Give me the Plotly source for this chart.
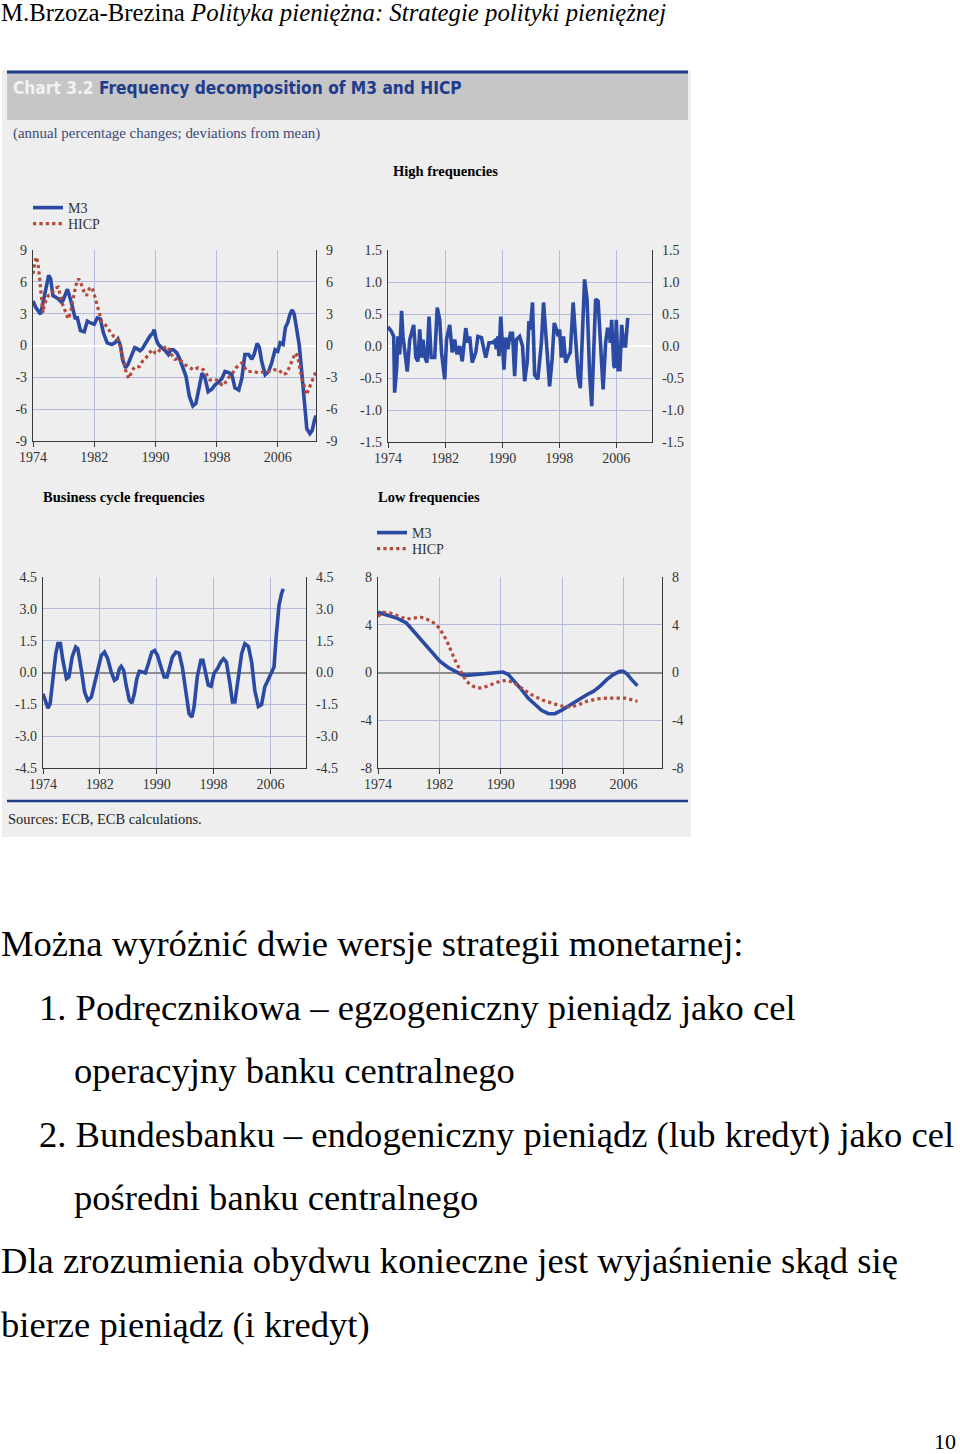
import plotly.graph_objects as go

W, H = 960, 1454
SERIF = "Liberation Serif"

# ---------------- data ----------------
years_ticks = [1974, 1982, 1990, 1998, 2006]
year_labels = ["1974", "1982", "1990", "1998", "2006"]

# Panel 1: M3 and HICP (annual % changes, deviations from mean)
p1_m3_year = [1974.0, 1974.35, 1975.0, 1975.5, 1976.05, 1976.3, 1976.6, 1977.3, 1977.7, 1977.9,
              1978.5, 1979.0, 1979.5, 1979.8, 1980.2, 1980.7, 1981.1, 1981.6, 1982.0, 1982.4,
              1982.8, 1983.2, 1983.7, 1984.3, 1984.7, 1985.1, 1985.45, 1985.7, 1986.1, 1986.4,
              1986.9, 1987.3, 1987.6, 1988.0, 1988.3, 1988.85, 1989.3, 1989.65, 1989.85, 1990.1,
              1990.4, 1990.8, 1991.25, 1991.7, 1992.0, 1992.35, 1992.8, 1993.2, 1993.65, 1994.0,
              1994.45, 1994.9, 1995.3, 1995.75, 1996.1, 1996.5, 1996.9, 1997.4, 1997.8, 1998.2,
              1998.7, 1999.1, 1999.6, 2000.0, 2000.4, 2000.9, 2001.3, 2001.7, 2002.2, 2002.6,
              2002.9, 2003.3, 2003.6, 2003.9, 2004.35, 2004.8, 2005.2, 2005.65, 2006.0, 2006.3,
              2006.7, 2007.0, 2007.3, 2007.6, 2007.9, 2008.15, 2008.5, 2008.8, 2009.15, 2009.5,
              2009.8, 2010.2, 2010.5, 2010.8, 2011.0]
p1_m3_val = [4.2, 3.6, 2.95, 4.7, 6.6, 6.3, 4.7, 4.4, 4.1, 4.2,
             5.3, 4.1, 2.6, 2.6, 1.4, 1.3, 2.3, 2.1, 2.0, 2.6,
             2.5, 1.2, 0.25, 0.1, 0.25, 0.6, -0.05, -1.3, -2.1, -1.8,
             -1.0, -0.2, -0.3, -0.5, -0.3, 0.4, 0.9, 1.15, 1.5, 0.6,
             0.1, -0.2, -0.45, -0.85, -0.4, -0.4, -0.7, -1.3, -2.3, -2.9,
             -4.8, -5.7, -5.45, -3.9, -2.6, -3.1, -4.35, -4.1, -3.7, -3.5,
             -3.1, -2.45, -2.55, -2.75, -4.0, -4.2, -3.1, -0.85, -0.85, -1.3,
             -0.85, 0.2, -0.2, -1.5, -2.75, -2.45, -1.65, -0.4, -0.55, 0.25,
             0.1, 1.7, 2.15, 2.95, 3.35, 2.95, 1.5, 0.1, -2.6, -5.45,
             -7.85, -8.3, -8.0, -7.05, -6.6]
p1_hicp_year = [1974.0, 1974.2, 1974.45, 1974.65, 1974.9, 1975.1, 1975.3, 1975.5, 1976.0, 1976.4,
                1976.85, 1977.3, 1977.5, 1977.85, 1978.3, 1978.6, 1978.9, 1979.25, 1979.6, 1979.95,
                1980.3, 1980.7, 1981.0, 1981.35, 1981.7, 1982.0, 1982.3, 1982.65, 1982.95, 1983.4,
                1983.7, 1984.05, 1984.5, 1984.9, 1985.25, 1985.55, 1985.85, 1986.2, 1986.55, 1986.9,
                1987.3, 1987.9, 1988.3, 1988.75, 1989.2, 1989.6, 1989.95, 1990.25, 1990.6, 1991.0,
                1991.45, 1991.8, 1992.1, 1992.55, 1993.0, 1993.4, 1993.85, 1994.3, 1995.0, 1995.6,
                1996.3, 1996.7, 1997.15, 1997.6, 1998.0, 1998.45, 1998.8, 1999.25, 1999.7, 2000.1,
                2000.55, 2001.0, 2001.3, 2001.6, 2002.05, 2002.85, 2003.5, 2004.2, 2004.8, 2005.5,
                2006.15, 2006.7, 2007.15, 2007.55, 2008.0, 2008.3, 2008.6, 2008.85, 2009.15, 2009.5,
                2009.75, 2010.0, 2010.35, 2010.7, 2011.0]
p1_hicp_val = [6.75, 7.7, 8.35, 7.7, 6.1, 4.4, 3.1, 3.9, 4.7, 4.85,
               5.4, 5.5, 5.0, 3.9, 3.1, 2.5, 3.1, 4.4, 5.65, 6.3,
               5.8, 5.0, 4.7, 5.35, 5.5, 4.85, 4.05, 3.1, 2.3, 2.0,
               1.7, 1.35, 0.9, 0.75, 0.4, -0.55, -1.65, -2.6, -3.1, -2.45,
               -2.0, -2.0, -1.5, -1.2, -0.7, -0.4, -0.7, -0.75, -0.4, -0.3,
               -0.05, -0.4, -0.85, -1.3, -1.2, -1.5, -1.8, -2.0, -2.3, -2.1,
               -2.3, -2.75, -3.25, -3.2, -3.25, -3.55, -3.8, -3.4, -2.9, -2.6,
               -2.1, -1.8, -1.65, -2.0, -2.45, -2.45, -2.6, -2.45, -2.45, -2.3,
               -2.3, -2.75, -2.6, -2.0, -1.2, -0.7, -1.0, -2.0, -3.1, -3.9,
               -4.65, -4.2, -3.55, -2.9, -2.45]

# Panel 2: High frequencies (M3)
p2_year = [1974.0, 1974.45, 1974.8, 1974.93, 1975.2, 1975.4, 1975.65, 1975.9, 1976.1, 1976.35,
           1976.7, 1977.05, 1977.3, 1977.6, 1977.9, 1978.2, 1978.45, 1978.7, 1978.9, 1979.15,
           1979.45, 1979.75, 1980.05, 1980.55, 1980.9, 1981.25, 1981.5, 1981.95, 1982.2, 1982.65,
           1983.0, 1983.35, 1983.65, 1984.05, 1984.4, 1984.9, 1985.2, 1985.45, 1985.8, 1986.3,
           1986.6, 1987.1, 1987.3, 1987.7, 1988.15, 1988.6, 1988.95, 1989.2, 1989.4, 1989.55,
           1989.8, 1990.05, 1990.25, 1990.5, 1990.8, 1991.15, 1991.45, 1991.75, 1992.0, 1992.45,
           1992.85, 1993.15, 1993.5, 1993.75, 1993.95, 1994.25, 1994.55, 1995.0, 1995.5, 1995.8,
           1996.2, 1996.65, 1997.0, 1997.3, 1997.6, 1997.85, 1998.05, 1998.3, 1998.6, 1998.9,
           1999.25, 1999.55, 1999.95, 2000.3, 2000.65, 2000.95, 2001.55, 2001.9, 2002.25, 2002.55,
           2002.8, 2003.1, 2003.45, 2003.75, 2004.15, 2004.5, 2004.75, 2005.0, 2005.15, 2005.35,
           2005.65, 2005.8, 2006.0, 2006.25, 2006.5, 2006.75, 2007.05, 2007.3, 2007.6]
p2_val = [0.3, 0.23, 0.15, -0.73, -0.37, 0.15, -0.13, 0.55, 0.15, -0.1,
          -0.4, 0.1, 0.2, 0.33, -0.18, -0.24, 0.26, -0.18, 0.1, -0.16,
          -0.26, 0.46, -0.18, -0.18, 0.6, 0.41, -0.1, -0.52, 0.1, 0.33,
          -0.1, 0.1, -0.13, 0.0, -0.24, 0.28, 0.05, 0.15, -0.26, -0.1,
          0.15, 0.13, 0.02, -0.18, 0.05, 0.05, 0.08, -0.05, 0.15, -0.16,
          0.46, -0.05, -0.37, 0.13, -0.05, 0.2, 0.2, -0.47, 0.1, 0.15,
          0.0, -0.55, -0.26, 0.39, 0.26, 0.68, -0.45, -0.52, 0.05, 0.68,
          0.05, -0.63, -0.21, 0.36, 0.26, 0.15, 0.26, -0.18, 0.15, -0.26,
          -0.16, -0.1, 0.68, 0.1, -0.47, -0.66, 1.04, 0.73, -0.42, -0.94,
          -0.26, 0.73, 0.7, 0.05, -0.68, 0.05, 0.26, 0.26, 0.05, 0.41,
          -0.31, -0.34, 0.41, -0.37, -0.37, 0.33, 0.0, 0.0, 0.44]

# Panel 3: Business cycle frequencies (M3)
p3_year = [1974.0, 1974.4, 1974.7, 1975.0, 1975.4, 1975.8, 1976.1, 1976.45, 1976.8, 1977.3,
           1977.65, 1978.1, 1978.6, 1978.9, 1979.4, 1979.85, 1980.3, 1980.8, 1981.25, 1981.7,
           1982.2, 1982.65, 1983.1, 1983.6, 1984.05, 1984.4, 1984.75, 1985.0, 1985.35, 1985.7,
           1986.15, 1986.5, 1986.85, 1987.2, 1987.55, 1988.0, 1988.4, 1988.85, 1989.3, 1989.7,
           1990.1, 1990.6, 1991.05, 1991.45, 1991.85, 1992.2, 1992.7, 1993.15, 1993.6, 1994.1,
           1994.55, 1994.95, 1995.25, 1995.7, 1996.2, 1996.5, 1996.9, 1997.25, 1997.65, 1998.05,
           1998.55, 1999.0, 1999.4, 1999.8, 2000.3, 2000.65, 2001.0, 2001.5, 2001.95, 2002.4,
           2002.9, 2003.35, 2003.8, 2004.3, 2004.75, 2005.2, 2005.7, 2006.05, 2006.5, 2006.8,
           2007.2, 2007.55, 2007.8]
p3_val = [-1.0, -1.4, -1.68, -1.47, -0.37, 0.89, 1.36, 1.36, 0.57, -0.29,
          -0.21, 0.73, 1.2, 1.12, 0.1, -0.92, -1.31, -1.16, -0.53, 0.18,
          0.81, 0.96, 0.65, 0.02, -0.37, -0.29, 0.18, 0.29, 0.1, -0.6,
          -1.31, -1.44, -1.0, -0.29, 0.05, 0.02, -0.02, 0.45, 0.96, 1.04,
          0.81, 0.26, -0.21, -0.21, 0.26, 0.73, 0.96, 0.91, 0.26, -1.0,
          -1.94, -2.1, -1.62, -0.21, 0.57, 0.57, -0.13, -0.6, -0.65, -0.05,
          0.18, 0.49, 0.65, 0.49, -0.53, -1.39, -1.39, -0.21, 0.89, 1.36,
          1.23, 0.49, -0.85, -1.6, -1.51, -0.68, -0.29, -0.1, 0.26, 1.67,
          3.16, 3.71, 3.94]

# Panel 4: Low frequencies
p4_m3_year = [1974.0, 1975.1, 1976.4, 1977.7, 1978.8, 1979.9, 1981.0, 1982.05, 1983.15, 1984.2,
              1984.9, 1985.5, 1986.4, 1987.5, 1988.6, 1989.65, 1990.3, 1991.0, 1991.8, 1992.7,
              1993.55, 1994.45, 1995.3, 1996.2, 1997.05, 1997.9, 1998.8, 1999.45, 2000.3, 2001.2,
              2002.05, 2002.9, 2003.8, 2004.65, 2005.5, 2005.95, 2006.4, 2007.05, 2007.8]
p4_m3_val = [5.04, 4.85, 4.57, 4.15, 3.31, 2.47, 1.69, 0.94, 0.42, 0.04,
             -0.18, -0.24, -0.18, -0.13, -0.01, 0.07, 0.04, -0.18, -0.74, -1.44,
             -2.14, -2.7, -3.17, -3.45, -3.45, -3.17, -2.84, -2.61, -2.22, -1.86,
             -1.58, -1.16, -0.6, -0.18, 0.1, 0.1, -0.1, -0.6, -1.1]
p4_hicp_year = [1974.0, 1974.65, 1975.5, 1976.6, 1977.7, 1978.8, 1979.65, 1980.75, 1981.6, 1982.25,
                1982.9, 1983.55, 1984.2, 1984.9, 1985.5, 1986.4, 1987.25, 1988.15, 1989.0, 1989.85,
                1990.75, 1991.6, 1992.7, 1994.0, 1995.3, 1996.6, 1997.7, 1998.8, 1999.85, 2001.2,
                2002.5, 2003.8, 2005.1, 2006.2, 2007.05, 2007.8]
p4_hicp_val = [4.7, 5.04, 4.99, 4.71, 4.48, 4.57, 4.62, 4.37, 4.01, 3.45,
               2.75, 1.77, 0.8, -0.04, -0.74, -1.16, -1.3, -1.16, -0.94, -0.74,
               -0.66, -0.82, -1.3, -1.86, -2.28, -2.56, -2.78, -2.89, -2.78, -2.42,
               -2.22, -2.14, -2.17, -2.14, -2.28, -2.42]

p1_ticks = [-9, -6, -3, 0, 3, 6, 9]
p1_labels = ["-9", "-6", "-3", "0", "3", "6", "9"]
p2_ticks = [-1.5, -1.0, -0.5, 0.0, 0.5, 1.0, 1.5]
p2_labels = ["-1.5", "-1.0", "-0.5", "0.0", "0.5", "1.0", "1.5"]
p3_ticks = [-4.5, -3.0, -1.5, 0.0, 1.5, 3.0, 4.5]
p3_labels = ["-4.5", "-3.0", "-1.5", "0.0", "1.5", "3.0", "4.5"]
p4_ticks = [-8, -4, 0, 4, 8]
p4_labels = ["-8", "-4", "0", "4", "8"]

# ---------------- styling ----------------
BLUE = "#2b4aa3"
RED = "#b5483a"
GRID = "#b3badf"
AX = "#3a3a3a"
BG = "#eeeeee"


def px_x(x):
    return x / W


def px_y(y):
    return 1 - y / H


fig = go.Figure()

panels = [
    ("x", "y", "y5", 33, 316, 250, 441, [-9, 9], p1_ticks, p1_labels, "#ffffff"),
    ("x2", "y2", "y6", 388, 652, 250, 442, [-1.5, 1.5], p2_ticks, p2_labels, "#ffffff"),
    ("x3", "y3", "y7", 43, 306, 577, 768, [-4.5, 4.5], p3_ticks, p3_labels, "#8c8c8c"),
    ("x4", "y4", "y8", 378, 662, 577, 768, [-8, 8], p4_ticks, p4_labels, "#8c8c8c"),
]

m3_line = dict(color=BLUE, width=3.6)
hicp_line = dict(color=RED, width=3.2, dash="dot")

fig.add_trace(go.Scatter(x=p1_m3_year, y=p1_m3_val, mode="lines", name="M3", line=m3_line,
                         xaxis="x", yaxis="y", legend="legend"))
fig.add_trace(go.Scatter(x=p1_hicp_year, y=p1_hicp_val, mode="lines", name="HICP", line=hicp_line,
                         xaxis="x", yaxis="y", legend="legend2"))
fig.add_trace(go.Scatter(x=p2_year, y=p2_val, mode="lines", name="M3", line=m3_line,
                         xaxis="x2", yaxis="y2", showlegend=False))
fig.add_trace(go.Scatter(x=p3_year, y=p3_val, mode="lines", name="M3", line=m3_line,
                         xaxis="x3", yaxis="y3", showlegend=False))
fig.add_trace(go.Scatter(x=p4_m3_year, y=p4_m3_val, mode="lines", name="M3", line=m3_line,
                         xaxis="x4", yaxis="y4", legend="legend3"))
fig.add_trace(go.Scatter(x=p4_hicp_year, y=p4_hicp_val, mode="lines", name="HICP", line=hicp_line,
                         xaxis="x4", yaxis="y4", legend="legend4"))

for xa, ya, yr, *_ in panels:
    fig.add_trace(go.Scatter(x=[1974, 2011], y=[0, 0], mode="lines",
                             line=dict(color="rgba(0,0,0,0)", width=0),
                             xaxis=xa, yaxis=yr, showlegend=False, hoverinfo="skip"))

tick_font = dict(family=SERIF, size=14, color="#333333")
layout_axes = {}
for i, (xa, ya, yr, x0, x1, yt, yb, rng, tv, tt, zc) in enumerate(panels):
    xkey = "xaxis" if xa == "x" else "xaxis" + xa[1:]
    ykey = "yaxis" if ya == "y" else "yaxis" + ya[1:]
    rkey = "yaxis" + yr[1:]
    layout_axes[xkey] = dict(
        domain=[px_x(x0), px_x(x1)], anchor=ya, range=[1974, 2011],
        tickvals=years_ticks, ticktext=year_labels, ticks="outside", ticklen=5,
        tickcolor=AX, showline=True, linecolor=AX, linewidth=1.2,
        showgrid=True, gridcolor=GRID, gridwidth=1, zeroline=False,
        tickfont=tick_font, fixedrange=True, automargin=False,
        ticklabelstandoff=-2,
    )
    layout_axes[ykey] = dict(
        domain=[px_y(yb), px_y(yt)], anchor=xa, range=rng,
        tickvals=tv, ticktext=tt, showline=True, linecolor=AX, linewidth=1.2,
        showgrid=True, gridcolor=GRID, gridwidth=1,
        zeroline=True, zerolinecolor=zc, zerolinewidth=2,
        tickfont=tick_font, ticks="", fixedrange=True, automargin=False,
        ticklabelstandoff=2,
    )
    layout_axes[rkey] = dict(
        overlaying=ya, side="right", anchor=xa, range=rng,
        tickvals=tv, ticktext=tt, showline=True, linecolor=AX, linewidth=1.2,
        showgrid=False, zeroline=False, tickfont=tick_font, ticks="",
        ticklabelstandoff=6, fixedrange=True, automargin=False,
    )

shapes = [
    dict(type="rect", xref="paper", yref="paper", x0=px_x(2), x1=px_x(691),
         y0=px_y(837), y1=px_y(70), fillcolor=BG, line=dict(width=0), layer="below"),
    dict(type="rect", xref="paper", yref="paper", x0=px_x(7), x1=px_x(688),
         y0=px_y(120), y1=px_y(73), fillcolor="#c6c6c6", line=dict(width=0), layer="below"),
    dict(type="line", xref="paper", yref="paper", x0=px_x(7), x1=px_x(688),
         y0=px_y(72), y1=px_y(72), line=dict(color="#1f3c8c", width=3), layer="above"),
    dict(type="line", xref="paper", yref="paper", x0=px_x(7), x1=px_x(688),
         y0=px_y(801), y1=px_y(801), line=dict(color="#1f3c8c", width=2.5), layer="above"),
]


def ann(text, x, y, size, color="#000000", family=SERIF, xanchor="left", weight=None):
    f = dict(family=family, size=size, color=color)
    if weight:
        f["weight"] = weight
    return dict(text=text, x=px_x(x), y=px_y(y), xref="paper", yref="paper",
                xanchor=xanchor, yanchor="middle", showarrow=False, font=f)


TITLE_FONT = "DejaVu Sans Condensed"
BODY = 36.6
annotations = [
    ann("M.Brzoza-Brezina <i>Polityka pieniężna: Strategie polityki pieniężnej</i>", -1, 13, 24.8),
    ann("<span style='color:#f2f2f2'>Chart 3.2</span> Frequency decomposition of M3 and HICP",
        11, 88, 17.2, color="#1f3c8c", family=TITLE_FONT, weight="bold"),
    ann("(annual percentage changes; deviations from mean)", 11, 134, 14.9, color="#3c4a78"),
    ann("High frequencies", 391, 171, 14.5, weight="bold"),
    ann("Business cycle frequencies", 41, 497, 14.5, weight="bold"),
    ann("Low frequencies", 376, 497, 14.5, weight="bold"),
    ann("Sources: ECB, ECB calculations.", 6, 819, 14.5, color="#222222"),
    ann("Można wyróżnić dwie wersje strategii monetarnej:", -1, 944, BODY),
    ann("1. Podręcznikowa – egzogeniczny pieniądz jako cel", 37, 1007, BODY),
    ann("operacyjny banku centralnego", 72, 1070, BODY),
    ann("2. Bundesbanku – endogeniczny pieniądz (lub kredyt) jako cel", 37, 1134, BODY),
    ann("pośredni banku centralnego", 72, 1197, BODY),
    ann("Dla zrozumienia obydwu konieczne jest wyjaśnienie skąd się", -1, 1260, BODY),
    ann("bierze pieniądz (i kredyt)", -1, 1324, BODY),
    ann("10", 958, 1441, 22, xanchor="right"),
]

legend_font = dict(family=SERIF, size=14, color="#333333")


def leg(x, ytop):
    return dict(x=px_x(x), y=px_y(ytop), xanchor="left", yanchor="top",
                bgcolor="rgba(0,0,0,0)", font=legend_font, itemwidth=30,
                tracegroupgap=0, borderwidth=0)


fig.update_layout(
    width=W, height=H, margin=dict(l=0, r=0, t=0, b=0, pad=0, autoexpand=False),
    paper_bgcolor="#ffffff", plot_bgcolor="rgba(0,0,0,0)",
    shapes=shapes, annotations=annotations,
    legend=leg(28, 192), legend2=leg(28, 208),
    legend3=leg(372, 517), legend4=leg(372, 533),
    hovermode=False,
    **layout_axes,
)

fig.write_html("out.html", config={"displayModeBar": False})
